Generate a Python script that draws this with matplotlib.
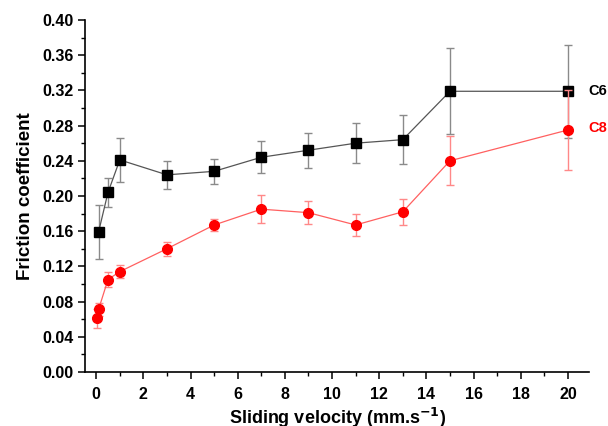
import numpy as np
import matplotlib
import matplotlib.pyplot as plt
from matplotlib.ticker import MultipleLocator, FormatStrFormatter

matplotlib.use('agg')

plt.rcParams['font.family'] = ['Liberation Sans', 'DejaVu Sans']
plt.rcParams['font.weight'] = 'bold'

#---------------- friction data --------------------

v_c6   = [0.1, 0.5, 1, 3, 5, 7, 9, 11, 13, 15, 20]
mu_c6  = [0.159, 0.204, 0.241, 0.224, 0.228, 0.244, 0.252, 0.260, 0.264, 0.319, 0.319]
err_c6 = [0.031, 0.016, 0.025, 0.016, 0.014, 0.018, 0.020, 0.023, 0.028, 0.049, 0.053]

v_c8   = [0.05, 0.1, 0.5, 1, 3, 5, 7, 9, 11, 13, 15, 20]
mu_c8  = [0.061, 0.071, 0.105, 0.114, 0.140, 0.167, 0.185, 0.181, 0.167, 0.182, 0.240, 0.275]
err_c8 = [0.011, 0.007, 0.008, 0.007, 0.008, 0.007, 0.016, 0.013, 0.012, 0.015, 0.028, 0.045]

#-------------- plotting

fig = plt.figure(figsize=(6.08, 4.26), dpi=100)
ax = fig.add_axes([0.14, 0.127, 0.829, 0.826])

ax.errorbar(v_c6, mu_c6, yerr=err_c6, color='#555555', lw=0.9,
            ecolor='#8a8a8a', elinewidth=1.0, capsize=3, capthick=1.0,
            marker='s', ms=7, mfc='black', mec='black', zorder=3)
ax.errorbar(v_c8, mu_c8, yerr=err_c8, color='#ff6060', lw=0.9,
            ecolor='#ff8888', elinewidth=1.0, capsize=3, capthick=1.0,
            marker='o', ms=7, mfc='red', mec='red', zorder=4)

ax.set_xlim(-0.47, 20.9)
ax.set_ylim(0, 0.40)
ax.xaxis.set_major_locator(MultipleLocator(2))
ax.xaxis.set_minor_locator(MultipleLocator(1))
ax.yaxis.set_major_locator(MultipleLocator(0.04))
ax.yaxis.set_minor_locator(MultipleLocator(0.02))
ax.yaxis.set_major_formatter(FormatStrFormatter('%.2f'))

for side in ('top', 'right'):
  ax.spines[side].set_visible(False)
for side in ('left', 'bottom'):
  ax.spines[side].set_linewidth(1.2)
ax.tick_params(which='major', direction='out', length=5, width=1.1, labelsize=11.5)
ax.tick_params(axis='x', which='major', pad=6)
ax.tick_params(which='minor', direction='out', length=3, width=1.0)

ax.set_xlabel('Sliding velocity (mm.s$^{\\mathbf{-1}}$)', fontsize=13, fontweight='bold', labelpad=3)
ax.set_ylabel('Friction coefficient', fontsize=13.5, fontweight='bold', labelpad=6)

ax.text(20.85, 0.319, 'C6', color='black', fontsize=10.5, fontweight='bold',
        va='center', ha='left', clip_on=False)
ax.text(20.85, 0.277, 'C8', color='red', fontsize=10.5, fontweight='bold',
        va='center', ha='left', clip_on=False)

plt.savefig('out.png', dpi=100)
plt.close('all')
